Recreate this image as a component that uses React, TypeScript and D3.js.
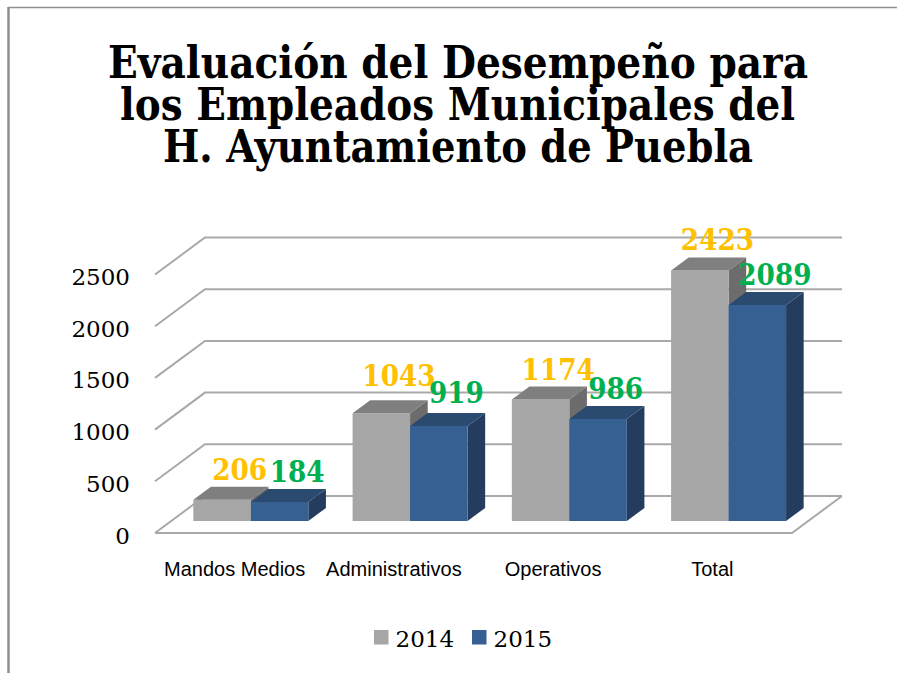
import React from "react";
import * as d3 from "d3";

const categories = ["Mandos Medios", "Administrativos", "Operativos", "Total"];
const values2014 = [206, 1043, 1174, 2423];
const values2015 = [184, 919, 986, 2089];
const seriesNames = ["2014", "2015"];
const yTicks = [0, 500, 1000, 1500, 2000, 2500];
const titleLines = [
  "Evaluación del Desempeño para",
  "los Empleados Municipales del",
  "H. Ayuntamiento de Puebla",
];

const W = 897;
const H = 673;
const FLOOR_LEFT = 155;
const FLOOR_RIGHT = 792;
const BASE_Y = 533;
const DEPTH_DX = 50;
const DEPTH_DY = 37;
const BAR_D0 = 0.324;
const BAR_D1 = 0.676;

const colors: Record<string, { front: string; top: string; side: string; label: string }> = {
  "2014": { front: "#a6a6a6", top: "#7f7f7f", side: "#6c6c6c", label: "#ffc000" },
  "2015": { front: "#376092", top: "#2b4a70", side: "#243d5e", label: "#00b050" },
};

// per-label vertical lift (px) above the bar's top face, as placed in the reference
const labelLift: Record<string, number> = { "Administrativos2014": 14, "Administrativos2015": 10 };

const titleStarts = [108, 120, 163];
const titleWidths = [700, 675, 590];
const titleBaselines = [78, 120, 162];

export default function App() {
  const x0 = d3.scaleBand<string>().domain(categories).range([FLOOR_LEFT, FLOOR_RIGHT]);
  const x1 = d3
    .scaleBand<string>()
    .domain(seriesNames)
    .range([0, x0.bandwidth()])
    .paddingOuter(0.385);
  const y = d3.scaleLinear().domain([0, 2500]).range([0, 258.5]);
  const proj = (x: number, v: number, d: number): [number, number] => [
    x + d * DEPTH_DX,
    BASE_Y - y(v) - d * DEPTH_DY,
  ];
  const pts = (arr: [number, number][]) => arr.map((p) => p.join(",")).join(" ");

  const seriesValues: Record<string, number[]> = { "2014": values2014, "2015": values2015 };

  const bars: any[] = [];
  const labels: any[] = [];
  categories.forEach((c, i) => {
    seriesNames.forEach((s) => {
      const v = seriesValues[s][i];
      const xa = (x0(c) as number) + (x1(s) as number);
      const xb = xa + x1.bandwidth();
      const col = colors[s];
      const front = [proj(xa, 0, BAR_D0), proj(xb, 0, BAR_D0), proj(xb, v, BAR_D0), proj(xa, v, BAR_D0)];
      const top = [proj(xa, v, BAR_D0), proj(xb, v, BAR_D0), proj(xb, v, BAR_D1), proj(xa, v, BAR_D1)];
      const side = [proj(xb, 0, BAR_D0), proj(xb, v, BAR_D0), proj(xb, v, BAR_D1), proj(xb, 0, BAR_D1)];
      bars.push(
        <g key={c + s}>
          <polygon points={pts(side as any)} fill={col.side} />
          <polygon points={pts(front as any)} fill={col.front} />
          <polygon points={pts(top as any)} fill={col.top} />
        </g>
      );
      const lp = proj((xa + xb) / 2, v, BAR_D1);
      const txt = String(v);
      const lift = labelLift[c + s] ?? 7;
      labels.push(
        <text
          key={"l" + c + s}
          x={lp[0]}
          y={lp[1] - lift}
          textAnchor="middle"
          fontFamily="'DejaVu Serif', serif"
          fontWeight="bold"
          fontSize={30}
          fill={col.label}
          textLength={txt.length * 18.3}
          lengthAdjust="spacingAndGlyphs"
        >
          {txt}
        </text>
      );
    });
  });

  const gridColor = "#a9a9a9";

  return (
    <svg
      width={W}
      height={H}
      viewBox={`0 0 ${W} ${H}`}
      style={{ position: "absolute", left: 0, top: 0, background: "#fff" }}
    >
      <rect x={0} y={0} width={W} height={H} fill="#fff" />
      <line x1={8.5} y1={7.5} x2={W} y2={7.5} stroke="#8f8f8f" strokeWidth={1.5} />
      <line x1={8.5} y1={7} x2={8.5} y2={H} stroke="#8f8f8f" strokeWidth={2.5} />

      {titleLines.map((t, i) => (
        <text
          key={t}
          x={titleStarts[i]}
          y={titleBaselines[i]}
          fontFamily="'DejaVu Serif', serif"
          fontWeight="bold"
          fontSize={44}
          fill="#000"
          textLength={titleWidths[i]}
          lengthAdjust="spacingAndGlyphs"
        >
          {t}
        </text>
      ))}

      {/* gridlines: side-wall diagonal + back wall */}
      {yTicks.map((t) => {
        const a = proj(FLOOR_LEFT, t, 0);
        const b = proj(FLOOR_LEFT, t, 1);
        const c = proj(FLOOR_RIGHT, t, 1);
        return (
          <polyline
            key={"g" + t}
            points={pts([a, b, c])}
            fill="none"
            stroke={gridColor}
            strokeWidth={2}
          />
        );
      })}
      {/* floor front and right edges */}
      <polyline
        points={pts([proj(FLOOR_LEFT, 0, 0), proj(FLOOR_RIGHT, 0, 0), proj(FLOOR_RIGHT, 0, 1)])}
        fill="none"
        stroke={gridColor}
        strokeWidth={2}
      />

      {/* y tick labels */}
      {yTicks.map((t) => (
        <text
          key={"t" + t}
          x={130}
          y={proj(FLOOR_LEFT, t, 0)[1] + 10.5}
          textAnchor="end"
          fontFamily="'DejaVu Serif', serif"
          fontSize={23}
          fill="#000"
        >
          {t}
        </text>
      ))}

      {bars}
      {labels}

      {/* category labels */}
      {categories.map((c) => (
        <text
          key={"c" + c}
          x={(x0(c) as number) + x0.bandwidth() / 2}
          y={576}
          textAnchor="middle"
          fontFamily="'Liberation Sans', Arial, sans-serif"
          fontSize={20}
          fill="#000"
        >
          {c}
        </text>
      ))}

      {/* legend */}
      {seriesNames.map((s, i) => {
        const lx = 374 + i * 98;
        return (
          <g key={"leg" + s}>
            <rect x={lx} y={630} width={14.5} height={14.5} fill={colors[s].front} />
            <text
              x={lx + 21.5}
              y={647}
              fontFamily="'DejaVu Serif', serif"
              fontSize={23}
              fill="#000"
            >
              {s}
            </text>
          </g>
        );
      })}
    </svg>
  );
}
